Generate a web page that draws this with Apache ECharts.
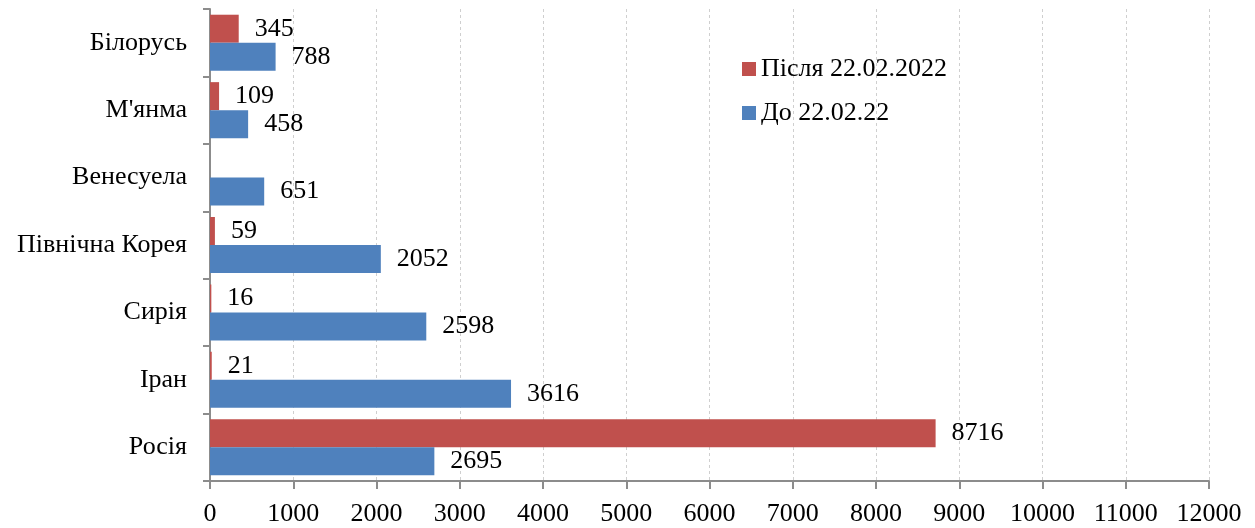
<!DOCTYPE html>
<html>
<head>
<meta charset="utf-8">
<script src="https://cdn.jsdelivr.net/npm/echarts@6/dist/echarts.min.js"></script>
<style>html,body{margin:0;padding:0;background:#fff;}#c{width:1255px;height:528px;}</style>
</head>
<body>
<div id="c"></div>
<script>
const categories = ['Росія', 'Іран', 'Сирія', 'Північна Корея', 'Венесуела', "М'янма", 'Білорусь'];
const afterValues = [8716, 21, 16, 59, null, 109, 345];
const beforeValues = [2695, 3616, 2598, 2052, 651, 458, 788];
const afterName = 'Після 22.02.2022';
const beforeName = 'До 22.02.22';
const xTicks = {min: 0, max: 12000, interval: 1000};

const font = '"Liberation Serif", "Times New Roman", serif';
const chart = echarts.init(document.getElementById('c'), null, {renderer: 'canvas'});
const labelStyle = {show: true, position: 'right', distance: 16, fontFamily: font, fontSize: 26, color: '#000'};
chart.setOption({
  animation: false,
  grid: {left: 210, right: 46, top: 9, bottom: 47, containLabel: false},
  legend: {
    data: [afterName, beforeName],
    orient: 'vertical', left: 737, top: 51,
    itemWidth: 14, itemHeight: 14, itemGap: 18,
    textStyle: {fontFamily: font, fontSize: 26, color: '#000'},
    icon: 'rect'
  },
  xAxis: {
    type: 'value', min: xTicks.min, max: xTicks.max, interval: xTicks.interval,
    axisLine: {show: true, lineStyle: {color: '#8c8c8c', width: 2}},
    axisTick: {show: true, length: 8, lineStyle: {color: '#8c8c8c', width: 2}},
    axisLabel: {fontFamily: font, fontSize: 26, color: '#000', margin: 20, formatter: v => String(v)},
    splitLine: {show: true, lineStyle: {color: '#cfcfcf', type: [3, 3], width: 1}}
  },
  yAxis: {
    type: 'category', data: categories,
    axisLine: {show: true, lineStyle: {color: '#8c8c8c', width: 2}},
    axisTick: {show: true, length: 7, lineStyle: {color: '#8c8c8c', width: 2}},
    axisLabel: {fontFamily: font, fontSize: 26, color: '#000', margin: 23}
  },
  series: [
    {name: afterName, type: 'bar', data: afterValues, itemStyle: {color: '#C0504D'},
     barWidth: 28, barGap: '0%', label: labelStyle},
    {name: beforeName, type: 'bar', data: beforeValues, itemStyle: {color: '#4F81BD'},
     barWidth: 28, barGap: '0%', label: labelStyle}
  ]
});
</script>
</body>
</html>
